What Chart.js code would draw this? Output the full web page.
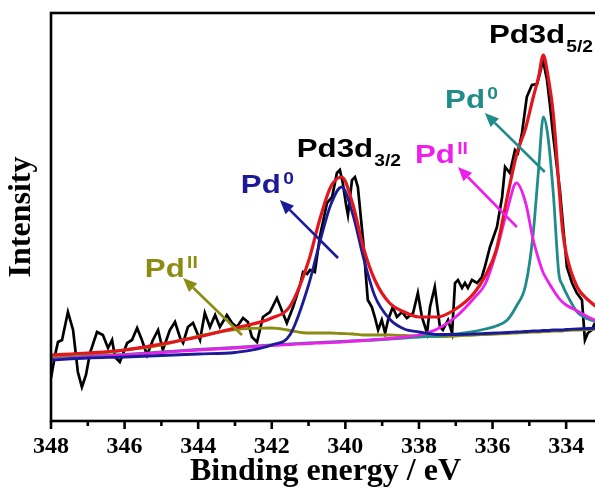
<!DOCTYPE html>
<html>
<head>
<meta charset="utf-8">
<script src="https://cdn.jsdelivr.net/npm/chart.js@4.4.0/dist/chart.umd.min.js"></script>
<style>
  html, body { margin: 0; padding: 0; background: #fff; overflow: hidden; }
  #wrap { width: 595px; height: 493px; overflow: hidden; }
</style>
</head>
<body>
<div id="wrap"><canvas id="xps" width="600" height="493"></canvas></div>
<script>
// Pd 3d XPS spectrum (raw data + fitted components)
const energyRaw = [348.00, 347.89, 347.81, 347.70, 347.54, 347.40, 347.27, 347.16, 347.05, 346.94,
  346.75, 346.59, 346.45, 346.34, 346.26, 346.13, 345.93, 345.80, 345.66, 345.53,
  345.39, 345.23, 345.09, 344.96, 344.77, 344.63, 344.49, 344.41, 344.28, 344.14,
  343.95, 343.82, 343.68, 343.54, 343.41, 343.22, 343.08, 342.95, 342.78, 342.65,
  342.54, 342.40, 342.24, 342.05, 341.86, 341.70, 341.59, 341.42, 341.23, 341.15,
  341.04, 340.96, 340.83, 340.69, 340.50, 340.36, 340.23, 340.15, 340.07, 339.98,
  339.93, 339.82, 339.74, 339.66, 339.52, 339.39, 339.28, 339.20, 339.11, 339.01,
  338.92, 338.84, 338.71, 338.60, 338.46, 338.33, 338.16, 338.03, 337.92, 337.78,
  337.70, 337.57, 337.43, 337.35, 337.21, 337.10, 337.02, 336.94, 336.83, 336.75,
  336.67, 336.56, 336.42, 336.29, 336.21, 336.07, 335.88, 335.74, 335.66, 335.53,
  335.39, 335.31, 335.20, 335.07, 334.93, 334.79, 334.71, 334.63, 334.52, 334.44,
  334.36, 334.25, 334.17, 334.09, 333.98, 333.84, 333.71, 333.57, 333.49, 333.41,
  333.30, 333.22];
const countsRaw = [43, 66, 79, 81, 109, 91, 49, 34, 46, 68,
  89, 86, 73, 81, 64, 59, 78, 81, 93, 81,
  66, 81, 91, 71, 91, 99, 83, 78, 94, 98,
  81, 108, 94, 106, 94, 106, 98, 94, 103, 99,
  84, 79, 104, 109, 123, 108, 98, 114, 136, 149,
  147, 151, 149, 185, 218, 224, 248, 251, 238, 216,
  206, 241, 244, 234, 181, 121, 114, 104, 91, 101,
  88, 101, 114, 104, 109, 103, 108, 128, 104, 88,
  114, 134, 94, 91, 101, 88, 138, 141, 133, 138,
  133, 141, 138, 144, 154, 174, 194, 224, 254, 248,
  271, 268, 288, 324, 336, 337, 348, 361, 341, 316,
  288, 254, 231, 198, 154, 138, 128, 121, 81, 88,
  91, 98];

const energyFit = [348, 347, 346, 345, 344, 343, 342, 341.5, 341, 340.7, 340.4, 340.1,
  339.8, 339.5, 339.2, 338.8, 338.4, 338, 337.5, 337, 336.5, 336.2, 335.9, 335.6,
  335.35, 335.1, 334.9, 334.75, 334.62, 334.5, 334.35, 334.2, 334.1, 334, 333.7, 333.4, 333.1];
const envelopeFit = [66, 68, 71, 77, 84, 93, 103, 115, 160, 201, 234, 244,
  217, 172, 141, 118, 109, 104, 104, 112, 128, 145, 171, 224,
  266, 293, 323, 344, 366, 346, 307, 237, 192, 168, 134, 121, 112];
const pd0Fit32 = [61, 63, 64, 65.5, 67, 68.5, 76, 86.5, 136, 178, 216, 234,
  207, 162, 125, 102, 92, 89, 86.5, 86.5, 87, 87.5, 88, 88.5,
  89, 89.5, 90, 90, 90.5, 90.5, 91, 91, 91, 91.5, 92, 92.5, 93];
const pdIIFit32 = [64, 66, 71, 76, 85, 91.5, 93, 90.5, 88, 88, 88, 87.5,
  87, 86, 86, 86, 85.5, 85, 84.5, 85, 86, 86.5, 87, 87.5,
  88, 88.5, 89, 89, 89.5, 89.5, 90, 90, 90, 90.5, 91, 91.5, 92];
const pd0Fit52 = [62, 64.5, 66.5, 69, 71.5, 73.5, 76, 77, 78, 78.5, 79, 79.5,
  80, 80.5, 81, 82, 83, 84, 85, 87, 89.5, 92, 95, 101,
  115, 136, 186, 251, 304, 286, 228, 148, 136, 128, 109, 102, 98];
const pdIIFit52 = [61.5, 64, 66, 68.5, 71, 73, 75.5, 76.5, 77.5, 78, 78.5, 79,
  80, 80.5, 81.5, 82.5, 84, 86, 92, 104, 123, 137, 169, 211,
  238, 218, 182, 162, 148, 140, 131, 123, 119, 116, 110, 104, 99];

const tickValues = [348, 347, 346, 345, 344, 343, 342, 341, 340, 339, 338, 337, 336, 335, 334];

const pairs = (xs, ys) => xs.map((x, i) => ({ x: x, y: ys[i] }));

const RED = '#e3161d';
const BLUE = '#1b1b9a';
const OLIVE = '#8c8c12';
const TEAL = '#1f8c8a';
const MAGENTA = '#ec1fec';

// labels and arrows, anchored in data units
const labels = [
  { text: 'Pd3d', sub: '3/2', x: 341.32, y: 264, color: '#000' },
  { text: 'Pd3d', sub: '5/2', x: 336.10, y: 378, color: '#000' },
  { text: 'Pd', sup: '0', x: 337.29, y: 313, color: TEAL },
  { text: 'Pd', sup: 'II', x: 338.11, y: 258, color: MAGENTA },
  { text: 'Pd', sup: '0', x: 342.84, y: 228, color: BLUE },
  { text: 'Pd', sup: 'II', x: 345.45, y: 144, color: OLIVE },
];
const arrows = [
  { from: [340.20, 163], to: [341.78, 221], color: BLUE },
  { from: [342.81, 86], to: [344.41, 143], color: OLIVE },
  { from: [335.34, 194], to: [336.94, 254], color: MAGENTA },
  { from: [334.58, 249], to: [336.21, 308], color: TEAL },
];

const STRETCH = 1.2;

function drawArrow(ctx, x1, y1, x2, y2, color) {
  const ang = Math.atan2(y2 - y1, x2 - x1);
  const head = 14, half = 6;
  const bx = x2 - head * Math.cos(ang), by = y2 - head * Math.sin(ang);
  ctx.strokeStyle = color;
  ctx.lineWidth = 2.6;
  ctx.beginPath();
  ctx.moveTo(x1, y1);
  ctx.lineTo(bx, by);
  ctx.stroke();
  ctx.fillStyle = color;
  ctx.beginPath();
  ctx.moveTo(x2, y2);
  ctx.lineTo(bx + half * Math.sin(ang), by - half * Math.cos(ang));
  ctx.lineTo(bx - half * Math.sin(ang), by + half * Math.cos(ang));
  ctx.closePath();
  ctx.fill();
}

function drawLabel(ctx, lab, px, py) {
  ctx.save();
  ctx.translate(px, py);
  ctx.scale(STRETCH, 1);
  ctx.fillStyle = lab.color;
  ctx.textAlign = 'left';
  ctx.textBaseline = 'alphabetic';
  ctx.font = 'bold 26px "Liberation Sans", Arial, sans-serif';
  ctx.fillText(lab.text, 0, 0);
  const w = ctx.measureText(lab.text).width;
  ctx.font = 'bold 16px "Liberation Sans", Arial, sans-serif';
  if (lab.sub) ctx.fillText(lab.sub, w + 1, 9);
  if (lab.sup) ctx.fillText(lab.sup, w + 2, -9);
  ctx.restore();
}

const overlay = {
  id: 'overlay',
  afterDatasetsDraw(chart) {
    const { ctx, chartArea: a, scales: { x, y } } = chart;
    ctx.save();
    // frame
    ctx.strokeStyle = '#000';
    ctx.lineWidth = 2.6;
    ctx.strokeRect(a.left, a.top, a.right - a.left, a.bottom - a.top);
    // outward tick marks
    tickValues.forEach((v) => {
      const px = x.getPixelForValue(v);
      const len = v % 2 === 0 ? 8 : 5;
      ctx.beginPath();
      ctx.moveTo(px, a.bottom);
      ctx.lineTo(px, a.bottom + len);
      ctx.stroke();
    });
    arrows.forEach((ar) => {
      drawArrow(ctx,
        x.getPixelForValue(ar.from[0]), y.getPixelForValue(ar.from[1]),
        x.getPixelForValue(ar.to[0]), y.getPixelForValue(ar.to[1]), ar.color);
    });
    labels.forEach((lab) => {
      drawLabel(ctx, lab, x.getPixelForValue(lab.x), y.getPixelForValue(lab.y));
    });
    ctx.restore();
  },
};

const fitStyle = (color, order, width) => ({
  borderColor: color,
  borderWidth: width || 2.8,
  pointRadius: 0,
  fill: false,
  cubicInterpolationMode: 'monotone',
  order: order,
});

const serif = '"Liberation Serif", "Times New Roman", serif';

new Chart(document.getElementById('xps'), {
  type: 'line',
  data: {
    datasets: [
      Object.assign({ label: 'Envelope', data: pairs(energyFit, envelopeFit) }, fitStyle(RED, 0, 3.2)),
      Object.assign({ label: 'Pd0 3d3/2', data: pairs(energyFit, pd0Fit32) }, fitStyle(BLUE, 1)),
      Object.assign({ label: 'PdII 3d5/2', data: pairs(energyFit, pdIIFit52) }, fitStyle(MAGENTA, 2)),
      Object.assign({ label: 'Pd0 3d5/2', data: pairs(energyFit, pd0Fit52) }, fitStyle(TEAL, 3)),
      Object.assign({ label: 'PdII 3d3/2', data: pairs(energyFit, pdIIFit32) }, fitStyle(OLIVE, 4)),
      {
        label: 'Raw',
        data: pairs(energyRaw, countsRaw),
        borderColor: '#000',
        borderWidth: 2.7,
        pointRadius: 0,
        tension: 0,
        order: 10,
      },
    ],
  },
  options: {
    responsive: false,
    animation: false,
    devicePixelRatio: 1,
    layout: { padding: { top: 13, right: 0, left: 0, bottom: 0 } },
    plugins: { legend: { display: false }, tooltip: { enabled: false } },
    scales: {
      x: {
        type: 'linear',
        reverse: true,
        min: 333.08,
        max: 348,
        afterBuildTicks: (scale) => {
          scale.ticks = tickValues.map((v) => ({ value: v }));
        },
        afterFit: (scale) => {
          scale.height = 72;
        },
        grid: { display: false, drawTicks: false },
        border: { display: false },
        ticks: {
          autoSkip: false,
          maxRotation: 0,
          padding: 11,
          color: '#000',
          font: { family: serif, weight: 'bold', size: 24 },
          callback: (v) => (v % 2 === 0 ? String(v) : ''),
        },
        title: {
          display: true,
          text: 'Binding energy / eV',
          color: '#000',
          font: { family: serif, weight: 'bold', size: 32 },
          padding: { top: 0, bottom: 2 },
        },
      },
      y: {
        min: 0,
        max: 408,
        afterFit: (scale) => {
          scale.width = 51;
        },
        grid: { display: false },
        border: { display: false },
        ticks: { display: false },
        title: {
          display: true,
          text: 'Intensity',
          color: '#000',
          font: { family: serif, weight: 'bold', size: 32 },
          padding: { top: 3, bottom: 0 },
        },
      },
    },
  },
  plugins: [overlay],
});
</script>
</body>
</html>
